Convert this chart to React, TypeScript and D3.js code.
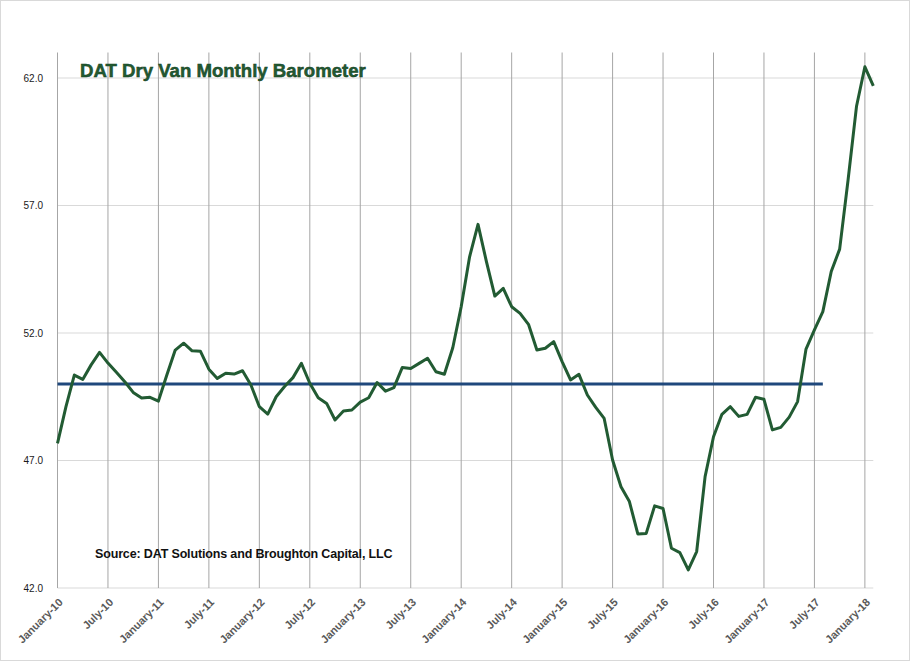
import * as d3 from 'd3';

// monthly barometer, January 2010 to February 2018
const barometer: number[] = [
  47.67, 49.1, 50.35, 50.18, 50.75, 51.24, 50.82, 50.46, 50.09, 49.67, 49.45, 49.48,
  49.33, 50.35, 51.33, 51.6, 51.3, 51.28, 50.58, 50.22, 50.42, 50.39, 50.52, 49.96,
  49.11, 48.82, 49.5, 49.9, 50.25, 50.81, 50.03, 49.46, 49.24, 48.59, 48.94, 48.98,
  49.29, 49.46, 50.06, 49.72, 49.86, 50.65, 50.61, 50.81, 51.01, 50.48, 50.38, 51.42,
  53.03, 54.99, 56.26, 54.8, 53.45, 53.75, 53.03, 52.77, 52.34, 51.33, 51.4, 51.66,
  50.88, 50.16, 50.38, 49.57, 49.08, 48.65, 47.02, 45.97, 45.39, 44.12, 44.14, 45.22,
  45.12, 43.56, 43.39, 42.71, 43.43, 46.37, 47.93, 48.81, 49.11, 48.73, 48.81, 49.48,
  49.4, 48.2, 48.3, 48.7, 49.31, 51.37, 52.12, 52.84, 54.41, 55.29, 58.0, 60.88,
  62.44, 61.69,
];

// average line runs January 2010 through August 2017
const averageValue = 50.0;
const averageMonths = 92;

const xTickLabels: string[] = [
  'January-10', 'July-10', 'January-11', 'July-11', 'January-12', 'July-12',
  'January-13', 'July-13', 'January-14', 'July-14', 'January-15', 'July-15',
  'January-16', 'July-16', 'January-17', 'July-17', 'January-18',
];
const yTicks: number[] = [42, 47, 52, 57, 62];

const title = 'DAT Dry Van Monthly Barometer';
const source = 'Source: DAT Solutions and Broughton Capital, LLC';

const width = 910;
const height = 661;
const plot = { left: 57.5, right: 873.3, top: 52.5, bottom: 588 };

export default function App() {
  const x = d3.scaleLinear().domain([0, barometer.length - 1]).range([plot.left, plot.right]);
  const y = d3.scaleLinear().domain([42, 63]).range([plot.bottom, plot.top]);

  const line = d3
    .line<number>()
    .x((_, i) => x(i))
    .y(d => y(d));

  const average = d3.range(averageMonths).map(() => averageValue);

  return (
    <>
      <style>{'body{margin:0}'}</style>
      <svg width={width} height={height} style={{ display: 'block' }}>
        <rect x={0.5} y={0.5} width={width - 1} height={height - 1} fill="#fff" stroke="#d9d9d9" />

        {/* horizontal gridlines */}
        {yTicks.map(t => (
          <line key={t} x1={plot.left} x2={plot.right} y1={y(t)} y2={y(t)} stroke="#d9d9d9" strokeWidth={1} />
        ))}

        {/* vertical gridlines every six months */}
        {xTickLabels.map((_, i) => (
          <line
            key={i}
            x1={x(i * 6)}
            x2={x(i * 6)}
            y1={plot.top}
            y2={plot.bottom}
            stroke="#a6a6a6"
            strokeWidth={1}
          />
        ))}

        {/* y labels */}
        {yTicks.map(t => (
          <text
            key={t}
            x={43}
            y={y(t)}
            dy="0.35em"
            textAnchor="end"
            fontFamily="Liberation Sans, Arial, sans-serif"
            fontSize={10}
            fill="#1a1a1a"
          >
            {t.toFixed(1)}
          </text>
        ))}

        {/* x labels */}
        {xTickLabels.map((label, i) => (
          <text
            key={label}
            transform={`translate(${x(i * 6) + 6},${plot.bottom + 15}) rotate(-45)`}
            textAnchor="end"
            fontFamily="Liberation Sans, Arial, sans-serif"
            fontSize={11}
            fontWeight="bold"
            fill="#595959"
          >
            {label}
          </text>
        ))}

        <path d={line(average) ?? ''} fill="none" stroke="#1f487c" strokeWidth={3} />
        <path d={line(barometer) ?? ''} fill="none" stroke="#225b33" strokeWidth={3} strokeLinejoin="round" />

        <text
          x={80}
          y={77}
          fontFamily="Liberation Sans, Arial, sans-serif"
          fontSize={18.6}
          fontWeight="bold"
          fill="#225b33"
          stroke="#17401f"
          strokeWidth={0.5}
        >
          {title}
        </text>

        <text
          x={95}
          y={558}
          fontFamily="Liberation Sans, Arial, sans-serif"
          fontSize={12.5}
          fontWeight="bold"
          letterSpacing={-0.15}
          fill="#111"
        >
          {source}
        </text>
      </svg>
    </>
  );
}
